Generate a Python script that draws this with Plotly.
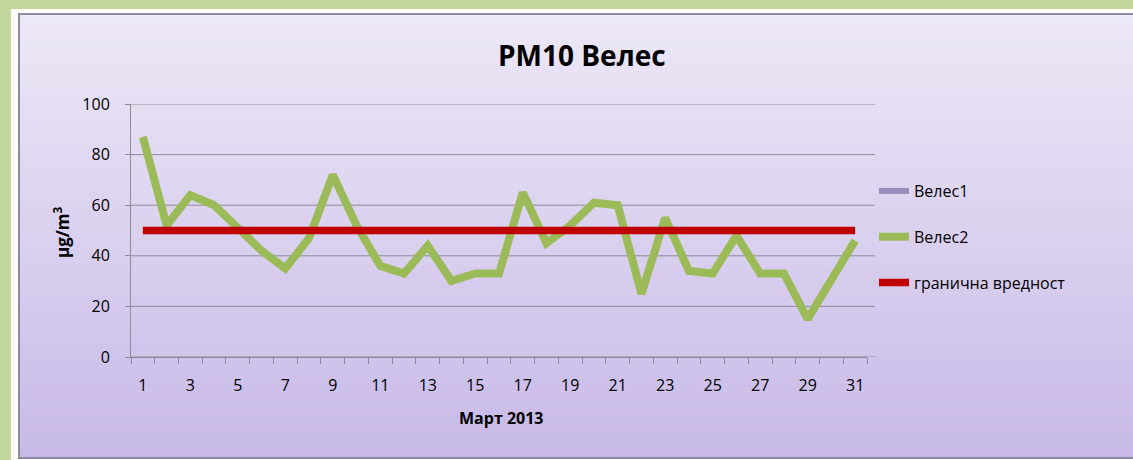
import plotly.graph_objects as go

days = list(range(1, 32))
velec1 = [None] * 31
velec2 = [87, 52, 64, 60, 51, 42, 35, 47, 72, 52, 36, 33, 44, 30, 33, 33, 65, 45, 52, 61,
          60, 25, 55, 34, 33, 48, 33, 33, 15, 30, 46]
limit = [50] * 31
y_ticks = [0, 20, 40, 60, 80, 100]
x_tick_days = list(range(1, 32, 2))

W, H = 1133, 460
L, R, T, B = 131, 867, 104, 357


def px(x):
    return (x - L) / (R - L)


def py(y):
    return (B - y) / (B - T)


FONT = "Open Sans"
GREEN = "#c5d89c"

fig = go.Figure()
fig.add_trace(go.Scatter(x=days, y=velec1, mode="lines", name="Велес1",
                         line=dict(color="#9b8bbd", width=6), legendgroup="a"))
fig.add_trace(go.Scatter(x=days, y=velec2, mode="lines", name="Велес2",
                         line=dict(color="#9bbb59", width=8), legendgroup="b"))
fig.add_trace(go.Scatter(x=days, y=limit, mode="lines", name="гранична вредност",
                         line=dict(color="#c00000", width=7.5), legendgroup="c"))

shapes = []
# green outer strips (top and left)
shapes.append(dict(type="rect", xref="paper", yref="paper", layer="below",
                   x0=px(-20), x1=px(1200), y0=py(9), y1=py(-20),
                   fillcolor=GREEN, line=dict(width=0)))
shapes.append(dict(type="rect", xref="paper", yref="paper", layer="below",
                   x0=px(-20), x1=px(11), y0=py(480), y1=py(-20),
                   fillcolor=GREEN, line=dict(width=0)))
shapes.append(dict(type="rect", xref="paper", yref="paper", layer="below",
                   x0=px(11), x1=px(1200), y0=py(480), y1=py(9),
                   fillcolor="white", line=dict(width=0)))
top = (237, 232, 246)
bot = (200, 185, 232)
n = 60
y_top, y_bot = 13, 458
for i in range(n):
    t = i / (n - 1)
    c = tuple(round(top[k] + (bot[k] - top[k]) * t) for k in range(3))
    ya = y_top + (y_bot - y_top) * i / n
    yb = y_top + (y_bot - y_top) * (i + 1) / n + 0.6
    shapes.append(dict(type="rect", xref="paper", yref="paper", layer="below",
                       x0=px(18), x1=px(1200), y0=py(yb), y1=py(ya),
                       fillcolor="rgb(%d,%d,%d)" % c, line=dict(width=0)))
shapes.append(dict(type="rect", xref="paper", yref="paper", layer="below",
                   x0=px(19), x1=px(1200), y0=py(458), y1=py(14),
                   fillcolor="rgba(0,0,0,0)", line=dict(color="#8f88a2", width=2)))
for v in y_ticks:
    shapes.append(dict(type="line", xref="paper", yref="y", layer="below",
                       x0=0, x1=px(875), y0=v, y1=v,
                       line=dict(color="#8e8a96", width=1)))

fig.update_layout(
    width=W, height=H,
    margin=dict(l=L, r=W - R, t=T, b=H - B),
    paper_bgcolor="rgb(216,206,238)",
    plot_bgcolor="rgba(0,0,0,0)",
    shapes=shapes,
    showlegend=True,
    legend=dict(x=px(874), y=py(174), xanchor="left", yanchor="top",
                bgcolor="rgba(0,0,0,0)", font=dict(family=FONT, size=16, color="black"),
                tracegroupgap=22, itemwidth=30),
    annotations=[
        dict(text="<b>PM10 Велес</b>", xref="paper", yref="paper", x=px(582), y=py(55),
             xanchor="center", yanchor="middle",
             showarrow=False, font=dict(family=FONT, size=28, color="black")),
        dict(text="<b>Март 2013</b>", xref="paper", yref="paper", x=px(501), y=py(418),
             xanchor="center", yanchor="middle",
             showarrow=False, font=dict(family=FONT, size=16, color="black")),
        dict(text="<b>µg/m<sup>3</sup></b>", xref="paper", yref="paper", x=px(61), y=py(232),
             xanchor="center", yanchor="middle",
             showarrow=False, textangle=-90, font=dict(family=FONT, size=17, color="black")),
    ],
)
fig.update_xaxes(range=[0.5, 31.5], tickmode="array", tickvals=x_tick_days,
                 ticktext=[str(d) for d in x_tick_days], ticks="", showgrid=False,
                 showline=True, linecolor="#8e8a96", linewidth=1,
                 ticklabelstandoff=14,
                 tickfont=dict(family=FONT, size=16, color="black"),
                 minor=dict(tickmode="linear", tick0=0.5, dtick=1, ticks="outside",
                            ticklen=6, tickcolor="#8e8a96", showgrid=False),
                 zeroline=False, fixedrange=True)
fig.update_yaxes(range=[0, 100], tickvals=y_ticks, ticks="outside", ticklen=5,
                 tickcolor="#8e8a96", showgrid=False, showline=True, linecolor="#8e8a96",
                 linewidth=1, zeroline=False, ticklabelstandoff=12,
                 tickfont=dict(family=FONT, size=16, color="black"), fixedrange=True)

fig.write_html("out.html", config={"displayModeBar": False},
               post_script="document.body.style.margin='0';document.body.style.overflow='hidden';")
